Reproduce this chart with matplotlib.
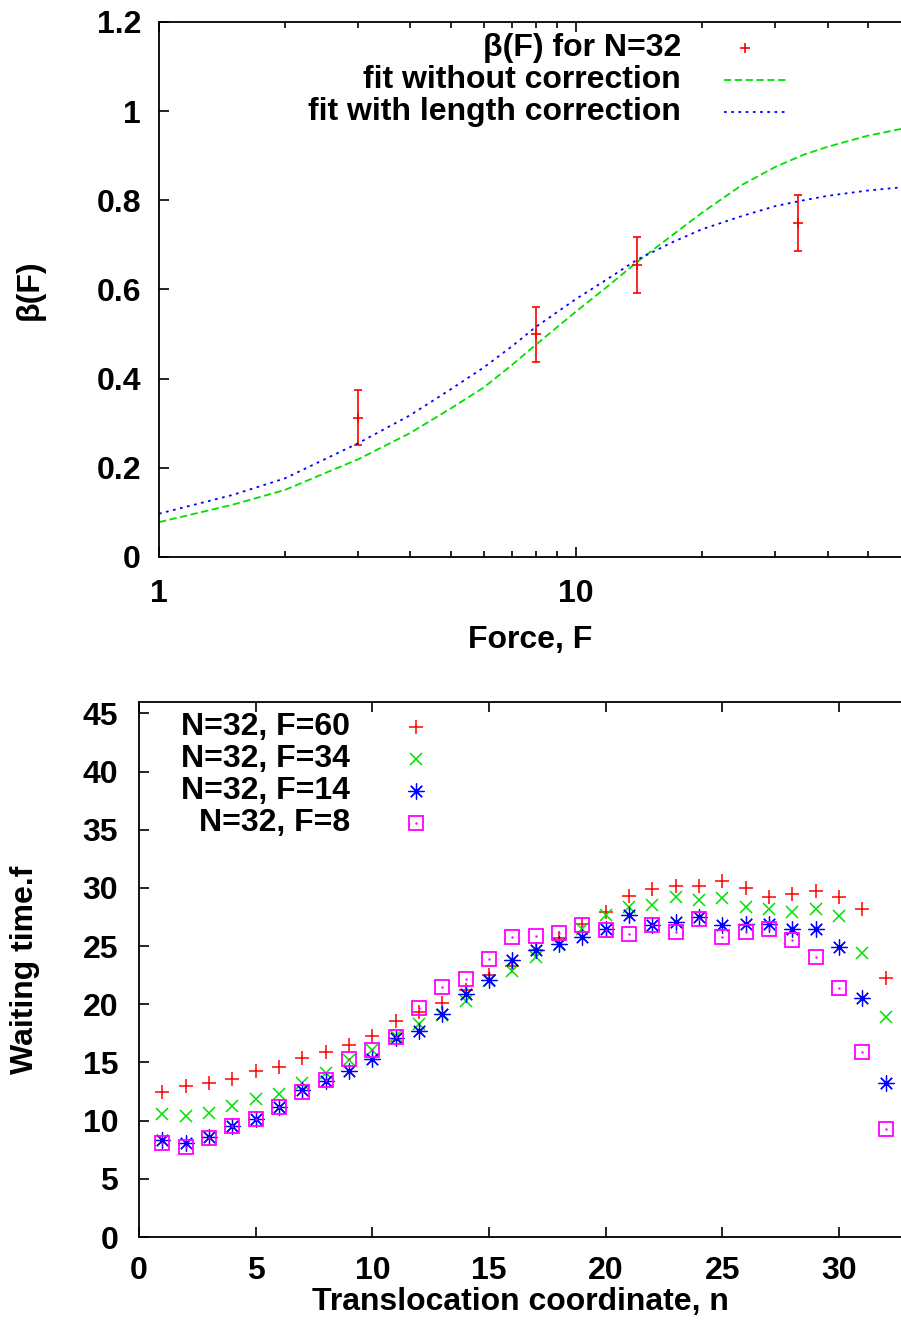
import numpy as np
import matplotlib
matplotlib.use('Agg')
import matplotlib.pyplot as plt
from matplotlib.ticker import FixedLocator, NullFormatter

plt.rcParams['font.family'] = ['Liberation Sans', 'DejaVu Sans']
plt.rcParams['font.weight'] = 'bold'
plt.rcParams['axes.labelweight'] = 'bold'

# top panel: beta(F) for N=32
force = [3, 8, 14, 34]
beta = [0.312, 0.499, 0.655, 0.749]
beta_err = [0.062, 0.062, 0.062, 0.062]

# fit curves
fit_force = [1, 1.5, 2, 3, 4, 5, 6, 7, 8, 10, 12, 14, 17, 20, 25, 30, 35, 40, 50, 60]
fit_plain = [0.078, 0.117, 0.150, 0.219, 0.278, 0.333, 0.380, 0.430, 0.476, 0.551, 0.610,
             0.662, 0.722, 0.772, 0.835, 0.875, 0.902, 0.920, 0.945, 0.960]
fit_corr = [0.097, 0.139, 0.176, 0.255, 0.318, 0.376, 0.425, 0.472, 0.516, 0.579, 0.626,
            0.667, 0.706, 0.735, 0.765, 0.787, 0.800, 0.810, 0.822, 0.829]

# bottom panel: waiting times
n = list(range(1, 33))
w_f60 = [12.5, 13.0, 13.2, 13.6, 14.3, 14.6, 15.4, 15.9, 16.5, 17.3, 18.6, 19.3, 20.1, 21.2,
         22.5, 23.3, 24.7, 25.7, 26.9, 27.9, 29.3, 29.9, 30.2, 30.2, 30.6, 30.0, 29.2, 29.5,
         29.7, 29.2, 28.2, 22.3]
w_f34 = [10.6, 10.4, 10.7, 11.3, 11.9, 12.3, 13.2, 14.1, 15.2, 16.1, 17.3, 18.3, 19.1, 20.3,
         22.0, 22.9, 24.1, 25.1, 26.5, 27.7, 28.4, 28.5, 29.2, 29.0, 29.1, 28.4, 28.2, 27.9,
         28.2, 27.6, 24.4, 18.9]
w_f14 = [8.3, 8.1, 8.6, 9.5, 10.1, 11.2, 12.6, 13.4, 14.3, 15.3, 17.1, 17.7, 19.2, 20.9,
         22.1, 23.8, 24.7, 25.2, 25.8, 26.5, 27.7, 26.8, 27.1, 27.5, 26.8, 26.9, 26.9, 26.5,
         26.5, 24.9, 20.5, 13.2]
w_f8 = [8.1, 7.7, 8.5, 9.5, 10.1, 11.2, 12.5, 13.5, 15.3, 16.1, 17.2, 19.7, 21.5, 22.2,
        23.9, 25.8, 25.9, 26.1, 26.8, 26.4, 26.0, 26.8, 26.2, 27.3, 25.8, 26.2, 26.5, 25.5,
        24.1, 21.4, 15.9, 9.3]
labels_bottom = ['N=32, F=60', 'N=32, F=34', 'N=32, F=14', 'N=32, F=8']

RED = '#ff0000'
GREEN = '#00e000'
BLUE = '#0000ff'
MAGENTA = '#ff00ff'
FS = 23


def style_axes(ax):
    ax.spines['right'].set_visible(False)
    for s in ['left', 'top', 'bottom']:
        ax.spines[s].set_linewidth(1.3)
    ax.tick_params(which='both', direction='in', top=True, right=False, width=1.2)
    ax.tick_params(which='major', length=7, labelsize=FS)
    ax.tick_params(which='minor', length=4)


fig = plt.figure(figsize=(9.01, 13.33), dpi=100)

# ---- top panel ----
ax1 = fig.add_axes([159 / 901, 0.5822, 742 / 901, 0.4013])
ax1.set_xscale('log')
ax1.errorbar(force, beta, yerr=beta_err, fmt='+', color=RED, ms=7, mew=1.2,
             elinewidth=1.2, capsize=3, capthick=1.2)
ax1.plot(fit_force, fit_plain, color=GREEN, lw=1.3, ls=(0, (4, 2)))
ax1.plot(fit_force, fit_corr, color=BLUE, lw=1.3, ls=(0, (1.5, 2.5)))
ax1.set_xlim(1, 60)
ax1.set_ylim(0, 1.2)
ax1.xaxis.set_major_locator(FixedLocator([1, 10]))
ax1.set_xticklabels(['1', '10'])
ax1.xaxis.set_minor_locator(FixedLocator([2, 3, 4, 5, 6, 7, 8, 9, 20, 30, 40, 50]))
ax1.xaxis.set_minor_formatter(NullFormatter())
yt = [0, 0.2, 0.4, 0.6, 0.8, 1.0, 1.2]
ax1.set_yticks(yt)
ax1.set_yticklabels(['0', '0.2', '0.4', '0.6', '0.8', '1', '1.2'])
style_axes(ax1)
ax1.tick_params(axis='x', pad=16)
ax1.tick_params(axis='y', pad=13)
ax1.set_xlabel('Force, F', fontsize=FS, va='center')
ax1.xaxis.set_label_coords(0.5, -0.155)
ax1.set_ylabel('β(F)', fontsize=FS, va='center')
ax1.yaxis.set_label_coords(-0.174, 0.5)

# legend drawn by hand, gnuplot style (text right-aligned, sample to the right)
tx = 0.7035
rows = [0.9514, 0.8916, 0.8318]
ax1.text(tx, rows[0], 'β(F) for N=32', transform=ax1.transAxes, ha='right', va='center', fontsize=FS)
ax1.text(tx, rows[1], 'fit without correction', transform=ax1.transAxes, ha='right', va='center', fontsize=FS)
ax1.text(tx, rows[2], 'fit with length correction', transform=ax1.transAxes, ha='right', va='center', fontsize=FS)
ax1.plot([0.7898], [rows[0]], '+', color=RED, ms=7, mew=1.2, transform=ax1.transAxes)
ax1.plot([0.7615, 0.8491], [rows[1], rows[1]], color=GREEN, lw=1.3, ls=(0, (4, 2)), transform=ax1.transAxes)
ax1.plot([0.7615, 0.8491], [rows[2], rows[2]], color=BLUE, lw=1.3, ls=(0, (1.5, 2.5)), transform=ax1.transAxes)

# ---- bottom panel ----
ax2 = fig.add_axes([139 / 901, 0.0720, 762 / 901, 0.4016])
ms = 10
ax2.plot(n, w_f60, '+', color=RED, ms=ms, mew=1.1, ls='none')
ax2.plot(n, w_f34, 'x', color=GREEN, ms=ms * 0.9, mew=1.1, ls='none')
ax2.plot(n, w_f14, marker=(8, 2, 0), color=BLUE, ms=ms * 1.15, mew=0.9, ls='none')
ax2.plot(n, w_f8, 's', mfc='none', mec=MAGENTA, ms=9.5, mew=1.3, ls='none')
ax2.plot(n, w_f8, '.', color=MAGENTA, ms=1.5, ls='none')
ax2.set_xlim(0, 32.66)
ax2.set_ylim(0, 46)
ax2.set_xticks(np.arange(0, 31, 5))
ax2.set_yticks(np.arange(0, 46, 5))
style_axes(ax2)
ax2.tick_params(axis='x', pad=14)
ax2.tick_params(axis='y', pad=15)
ax2.set_xlabel('Translocation coordinate, n', fontsize=FS, va='center')
ax2.xaxis.set_label_coords(0.5, -0.122)
ax2.set_ylabel('Waiting time.f', fontsize=FS, va='center')
ax2.yaxis.set_label_coords(-0.1496, 0.5)

tx2 = 0.2769
mx2 = 0.3631
rows2 = [0.9527, 0.893, 0.8332, 0.7734]
for lab, r in zip(labels_bottom, rows2):
    ax2.text(tx2, r, lab, transform=ax2.transAxes, ha='right', va='center', fontsize=FS)
ax2.plot([mx2], [rows2[0]], '+', color=RED, ms=ms, mew=1.1, transform=ax2.transAxes)
ax2.plot([mx2], [rows2[1]], 'x', color=GREEN, ms=ms * 0.9, mew=1.1, transform=ax2.transAxes)
ax2.plot([mx2], [rows2[2]], marker=(8, 2, 0), color=BLUE, ms=ms * 1.15, mew=0.9, transform=ax2.transAxes)
ax2.plot([mx2], [rows2[3]], 's', mfc='none', mec=MAGENTA, ms=9.5, mew=1.3, transform=ax2.transAxes)
ax2.plot([mx2], [rows2[3]], '.', color=MAGENTA, ms=1.5, transform=ax2.transAxes)

fig.savefig('out.png', dpi=100)
